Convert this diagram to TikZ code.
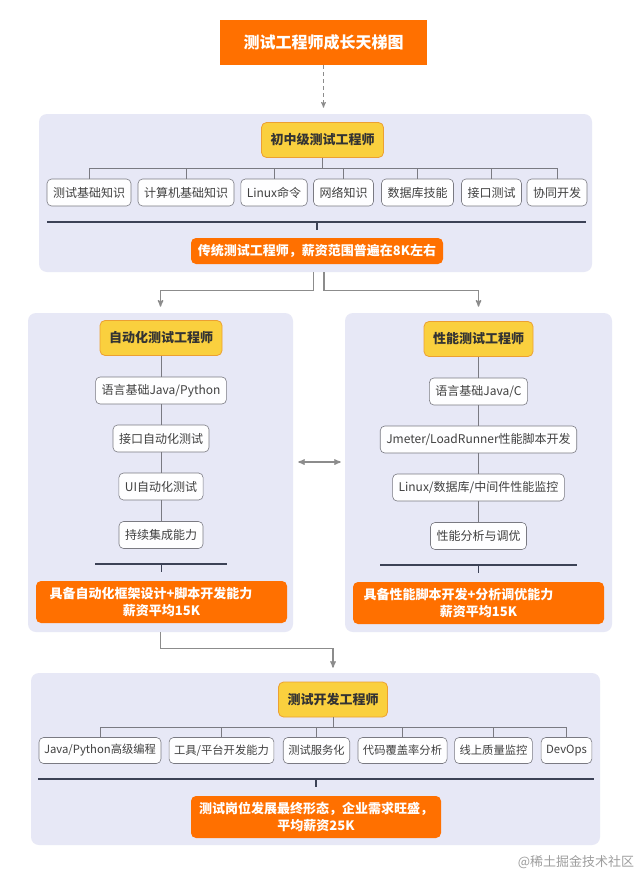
\documentclass[tikz,border=0pt]{standalone}
\usepackage{fontspec}
\setmainfont{Noto Sans CJK SC}
\usepackage{xcolor}
\usepackage{tikz}
\usetikzlibrary{arrows}

\definecolor{titleorange}{RGB}{255,112,0}
\definecolor{panelblue}{RGB}{231,232,246}
\definecolor{headyellow}{RGB}{250,208,62}
\definecolor{headedge}{RGB}{236,160,50}
\definecolor{boxedge}{RGB}{122,122,130}
\definecolor{rulegray}{RGB}{60,66,86}
\definecolor{linkgray}{RGB}{140,140,140}

\begin{document}
\begin{tikzpicture}[x=1pt,y=-1pt,>=stealth',semithick]
  \tikzstyle{panel}=[fill=panelblue,draw=none,rounded corners=8pt,inner sep=0pt]
  \tikzstyle{title}=[fill=titleorange,text=white,font=\fontsize{16}{19}\selectfont\bfseries,minimum width=207pt,minimum height=45pt]
  \tikzstyle{head}=[fill=headyellow,draw=headedge,line width=0.8pt,rounded corners=5pt,text=black!80,font=\fontsize{13}{16}\selectfont\bfseries,minimum height=35pt,inner xsep=9pt]
  \tikzstyle{item}=[fill=white!96!panelblue,draw=boxedge,line width=0.6pt,rounded corners=4.5pt,text=black!75,font=\fontsize{12}{14}\selectfont,minimum height=27pt,inner xsep=6pt]
  \tikzstyle{smallitem}=[item,font=\fontsize{11.3}{13}\selectfont,minimum height=26pt,inner xsep=5pt]
  \tikzstyle{salary}=[fill=titleorange,rounded corners=5pt,text=white,font=\fontsize{13}{17}\selectfont\bfseries,align=center,inner sep=0pt]
  \tikzstyle{branch}=[draw=boxedge,line width=0.7pt]
  \tikzstyle{rule}=[draw=rulegray,line width=1.6pt]
  \tikzstyle{link}=[->,draw=linkgray,line width=1.3pt]

  \useasboundingbox[fill=white] (0,0) rectangle (640,875);

  \node[title] (title) at (323.5,42.5) {测试工程师成长天梯图};

  % first level
  \node[panel,minimum width=553pt,minimum height=158pt] (juniorpanel) at (315.5,193) {};
  \node[head] (junior) at (322.5,140) {初中级测试工程师};
  \node[item] (j1) at (89,192.5) {测试基础知识};
  \node[item] (j2) at (186,192.5) {计算机基础知识};
  \node[item] (j3) at (274,192.5) {Linux命令};
  \node[item] (j4) at (343.5,192.5) {网络知识};
  \node[item] (j5) at (417.5,192.5) {数据库技能};
  \node[item] (j6) at (491.5,192.5) {接口测试};
  \node[item] (j7) at (557,192.5) {协同开发};
  \coordinate (jbus) at (322.5,168);
  \draw[branch] (junior) -- (jbus);
  \foreach \n in {j1,j2,j3,j4,j5,j6,j7}
    \draw[branch] (jbus) -| (\n.north);
  \node[salary,minimum width=252pt,minimum height=26pt] (jsum) at (317,251)
    {传统测试工程师，薪资范围普遍在8K左右};
  \draw[rule] (47,222) -- (586,222);
  \draw[rule,line width=1.2pt] ([yshift=16pt]jsum.north) -- ([yshift=8pt]jsum.north);

  % automation branch
  \node[panel,minimum width=265pt,minimum height=319pt] (autopanel) at (160.5,472.5) {};
  \node[head] (auto) at (161,338) {自动化测试工程师};
  \node[item] (a1) at (161,390.5) {语言基础Java/Python};
  \node[item] (a2) at (161,438.5) {接口自动化测试};
  \node[item] (a3) at (161,486.5) {UI自动化测试};
  \node[item] (a4) at (161,535) {持续集成能力};
  \draw[branch] (auto) -- (a1) -- (a2) -- (a3) -- (a4);
  \node[salary,minimum width=251pt,minimum height=42pt] (asum) at (161.5,602)
    {具备自动化框架设计+脚本开发能力\hspace*{21pt}\\薪资平均15K};
  \draw[rule] (95,564) -- (227,564);
  \draw[rule,line width=1.2pt] ([yshift=17pt]asum.north) -- ([yshift=9pt]asum.north);

  % performance branch
  \node[panel,minimum width=267pt,minimum height=319pt] (perfpanel) at (478.5,472.5) {};
  \node[head] (perf) at (478.5,339) {性能测试工程师};
  \node[item] (p1) at (478.5,391.5) {语言基础Java/C};
  \node[item] (p2) at (478.5,439.5) {Jmeter/LoadRunner性能脚本开发};
  \node[item] (p3) at (478.5,487.5) {Linux/数据库/中间件性能监控};
  \node[item] (p4) at (478.5,536) {性能分析与调优};
  \draw[branch] (perf) -- (p1) -- (p2) -- (p3) -- (p4);
  \node[salary,minimum width=251pt,minimum height=42pt] (psum) at (478.5,603)
    {具备性能脚本开发+分析调优能力\hspace*{40pt}\\薪资平均15K};
  \draw[rule] (380,565) -- (577,565);
  \draw[rule,line width=1.2pt] ([yshift=17pt]psum.north) -- ([yshift=9pt]psum.north);

  % development level
  \node[panel,minimum width=569pt,minimum height=172pt] (devpanel) at (315.5,759) {};
  \node[head] (dev) at (333,699.5) {测试开发工程师};
  \node[smallitem] (d1) at (100,750.5) {Java/Python高级编程};
  \node[smallitem] (d2) at (221.5,750.5) {工具/平台开发能力};
  \node[smallitem] (d3) at (316.5,750.5) {测试服务化};
  \node[smallitem] (d4) at (402.5,750.5) {代码覆盖率分析};
  \node[smallitem] (d5) at (493.5,750.5) {线上质量监控};
  \node[smallitem] (d6) at (566.5,750.5) {DevOps};
  \coordinate (dbus) at (333,727);
  \draw[branch] (dev) -- (dbus);
  \foreach \n in {d1,d2,d3,d4,d5,d6}
    \draw[branch] (dbus) -| (\n.north);
  \node[salary,minimum width=250pt,minimum height=42pt] (dsum) at (316,817)
    {测试岗位发展最终形态，企业需求旺盛，\\平均薪资25K};
  \draw[rule] (38,779) -- (594,779);
  \draw[rule,line width=1.2pt] ([yshift=17pt]dsum.north) -- ([yshift=9pt]dsum.north);

  % connectors
  \draw[link,dashed,line width=1pt,dash pattern=on 4pt off 3pt,shorten >=6pt]
    (title.south) -- (title.south |- juniorpanel.north);
  \draw[link,shorten >=6pt] ([xshift=-2pt]juniorpanel.south) -- ++(0,18) -| (autopanel.north);
  \draw[link,shorten >=6pt] ([xshift=8.5pt]juniorpanel.south) -- ++(0,18) -| (perfpanel.north);
  \draw[link,<->] ([xshift=5pt,yshift=10.5pt]autopanel.east) -- ([xshift=-4pt,yshift=10.5pt]perfpanel.west);
  \draw[link,shorten >=5pt] (autopanel.south) -- ++(0,16) -| (dev.north |- devpanel.north);

  \node[text=black!38,font=\fontsize{13}{15}\selectfont] (mark) at (576,862) {@稀土掘金技术社区};
\end{tikzpicture}
\end{document}
